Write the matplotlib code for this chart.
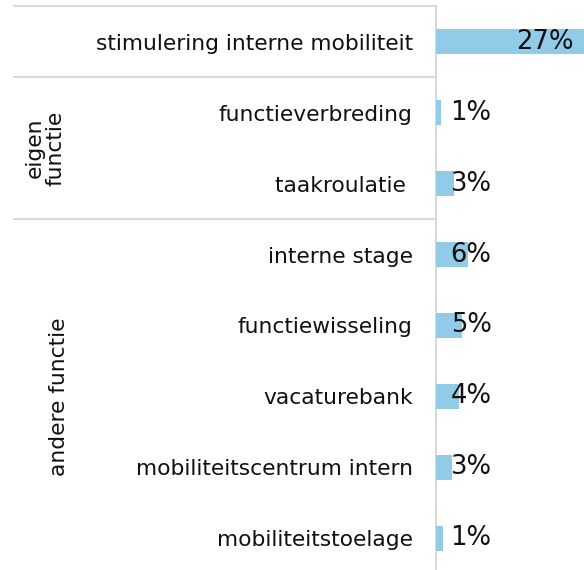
import matplotlib
matplotlib.use("Agg")
import matplotlib.pyplot as plt
from matplotlib.lines import Line2D
import matplotlib.transforms as mtransforms

plt.rcParams['font.family'] = ['DejaVu Sans']

categories = [
    "stimulering interne mobiliteit",
    "functieverbreding",
    "taakroulatie ",
    "interne stage",
    "functiewisseling",
    "vacaturebank",
    "mobiliteitscentrum intern",
    "mobiliteitstoelage",
]
values = [27.2, 1.05, 3.35, 5.9, 4.85, 4.35, 2.95, 1.4]
groups = ["eigen\nfunctie", "andere functie"]
group_rows = [(1, 2), (3, 7)]

W, H = 584, 570
fig = plt.figure(figsize=(W / 100, H / 100), dpi=100)

# axes placement in pixels
ax_left, ax_right = 435.7, 584.0
ax_top, ax_bottom = 6.2, 573.8
ax = fig.add_axes([ax_left / W, 1 - ax_bottom / H,
                   (ax_right - ax_left) / W, (ax_bottom - ax_top) / H])

px_per_unit = 5.45
ax.set_xlim(0, (ax_right - ax_left) / px_per_unit)
ax.set_ylim(len(categories) - 0.5, -0.5)

text_color = "#111111"
bar_color = "#92cbe7"
ypos = list(range(len(categories)))
ax.barh(ypos, values, height=0.35, color=bar_color, edgecolor="none")

for s in ax.spines.values():
    s.set_visible(False)
ax.set_xticks([])
ax.set_yticks(ypos)
ax.set_yticklabels(categories, fontsize=15.7, color=text_color)
ax.tick_params(axis="y", length=0, pad=16.5)

# value labels
label_x = (491.5 - ax_left) / px_per_unit
for y, v in zip(ypos, values):
    txt = f"{v:.0f}%"
    if v >= 10:
        ax.text(v - 10.7 / px_per_unit, y, txt, ha="right", va="center",
                fontsize=18.6, color=text_color)
    else:
        ax.text(label_x, y, txt, ha="right", va="center", fontsize=18.6,
                color=text_color)

# frame lines: vertical axis line and horizontal group separators
grid_color = "#d9d9d9"
ax.plot([0, 0], [-0.5, len(categories) - 0.5], color=grid_color, lw=1.5,
        clip_on=False, zorder=0)
blend = mtransforms.blended_transform_factory(fig.transFigure, ax.transData)
for yb in [-0.5, 0.5, 2.5]:
    fig.add_artist(Line2D([13.5 / W, 435.5 / W], [yb, yb], transform=blend,
                          color=grid_color, lw=1.5))

# group labels
for (r0, r1), name, xp in zip(group_rows, groups, [45, 59]):
    yc = (r0 + r1) / 2
    fig.text(xp / W, yc, name, transform=blend, rotation=90, ha="center",
             va="center", fontsize=15.7, color=text_color, linespacing=1.0,
             multialignment="center")

fig.savefig("out.png", dpi=100)
